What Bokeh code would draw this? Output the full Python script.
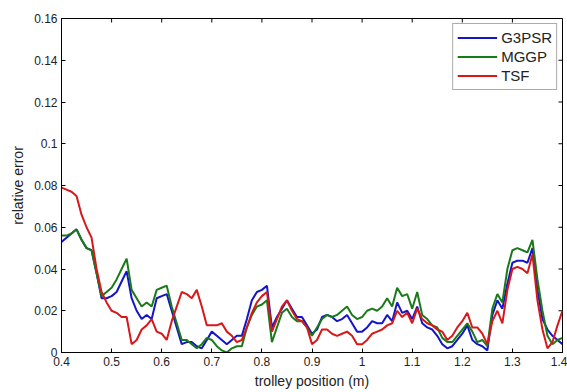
from bokeh.plotting import figure
from bokeh.models import Legend, LegendItem, FixedTicker, Range1d
from bokeh.embed import file_html
from bokeh.resources import INLINE
import math

x_pos = [round(0.40 + 0.01 * i, 2) for i in range(101)]

tsf = [0.079, 0.078, 0.077, 0.075, 0.066, 0.060, 0.055, 0.040, 0.029, 0.024,
       0.020, 0.019, 0.017, 0.017, 0.004, 0.006, 0.011, 0.013, 0.016, 0.010,
       0.009, 0.006, 0.015, 0.022, 0.029, 0.028, 0.026, 0.030, 0.022, 0.013,
       0.013, 0.013, 0.014, 0.010, 0.008, 0.005, 0.006, 0.012, 0.019, 0.024,
       0.027, 0.029, 0.010, 0.016, 0.022, 0.025, 0.020, 0.016, 0.015, 0.012,
       0.004, 0.006, 0.011, 0.011, 0.009, 0.008, 0.009, 0.010, 0.008, 0.004,
       0.004, 0.006, 0.009, 0.010, 0.011, 0.013, 0.014, 0.020, 0.017, 0.019,
       0.014, 0.021, 0.016, 0.014, 0.013, 0.011, 0.010, 0.006, 0.008, 0.012,
       0.015, 0.019, 0.012, 0.012, 0.009, 0.004, 0.015, 0.020, 0.014, 0.030,
       0.040, 0.041, 0.040, 0.038, 0.047, 0.025, 0.011, 0.002, 0.005, 0.013,
       0.020]

g3psr = [0.053, 0.055, 0.057, 0.059, 0.054, 0.050, 0.049, 0.038, 0.026, 0.026,
         0.027, 0.029, 0.034, 0.039, 0.026, 0.020, 0.016, 0.018, 0.016, 0.026,
         0.027, 0.028, 0.020, 0.012, 0.004, 0.005, 0.005, 0.003, 0.002, 0.006,
         0.010, 0.008, 0.006, 0.004, 0.006, 0.008, 0.008, 0.016, 0.025, 0.029,
         0.030, 0.032, 0.012, 0.017, 0.021, 0.025, 0.021, 0.017, 0.017, 0.013,
         0.009, 0.011, 0.017, 0.018, 0.017, 0.015, 0.016, 0.018, 0.014, 0.010,
         0.010, 0.012, 0.015, 0.014, 0.014, 0.018, 0.015, 0.024, 0.019, 0.020,
         0.016, 0.022, 0.014, 0.012, 0.011, 0.008, 0.004, 0.002, 0.003, 0.006,
         0.009, 0.013, 0.006, 0.004, 0.003, 0.001, 0.018, 0.025, 0.021, 0.033,
         0.043, 0.044, 0.044, 0.043, 0.050, 0.030, 0.016, 0.011, 0.008, 0.006,
         0.004]

mggp = [0.056, 0.056, 0.057, 0.059, 0.054, 0.050, 0.049, 0.038, 0.027, 0.029,
        0.031, 0.035, 0.040, 0.045, 0.030, 0.026, 0.022, 0.024, 0.022, 0.030,
        0.031, 0.032, 0.022, 0.014, 0.006, 0.006, 0.004, 0.002, 0.004, 0.007,
        0.006, 0.003, 0.001, 0.000, 0.002, 0.003, 0.003, 0.012, 0.018, 0.022,
        0.023, 0.025, 0.005, 0.012, 0.019, 0.021, 0.017, 0.015, 0.015, 0.012,
        0.008, 0.012, 0.016, 0.018, 0.017, 0.018, 0.020, 0.022, 0.018, 0.016,
        0.017, 0.020, 0.021, 0.020, 0.022, 0.026, 0.022, 0.031, 0.027, 0.028,
        0.021, 0.029, 0.018, 0.016, 0.013, 0.012, 0.007, 0.005, 0.005, 0.008,
        0.011, 0.014, 0.010, 0.005, 0.006, 0.003, 0.021, 0.028, 0.024, 0.040,
        0.049, 0.050, 0.049, 0.048, 0.054, 0.035, 0.020, 0.008, 0.004, 0.006,
        0.007]

x_ticks = [0.4, 0.5, 0.6, 0.7, 0.8, 0.9, 1.0, 1.1, 1.2, 1.3, 1.4]
y_ticks = [0, 0.02, 0.04, 0.06, 0.08, 0.1, 0.12, 0.14, 0.16]
x_tick_labels = ["0.4", "0.5", "0.6", "0.7", "0.8", "0.9", "1", "1.1", "1.2", "1.3", "1.4"]
y_tick_labels = ["0", "0.02", "0.04", "0.06", "0.08", "0.1", "0.12", "0.14", "0.16"]
x_min, x_max = 0.4, 1.4
y_min, y_max = 0.0, 0.16

FONT = "Liberation Sans"

p = figure(width=567, height=392, output_backend="svg", toolbar_location=None,
           x_range=Range1d(x_min, x_max), y_range=Range1d(y_min, y_max),
           min_border_left=61, min_border_right=5, min_border_top=18, min_border_bottom=40,
           x_axis_label="trolley position (m)", y_axis_label="relative error")
p.xgrid.visible = False
p.ygrid.visible = False
p.outline_line_color = "black"
p.outline_line_width = 1
p.background_fill_color = "white"

p.xaxis.ticker = FixedTicker(ticks=x_ticks)
p.xaxis.major_label_overrides = {t: l for t, l in zip(x_ticks, x_tick_labels)}
p.yaxis.ticker = FixedTicker(ticks=y_ticks)
p.yaxis.major_label_overrides = {t: l for t, l in zip(y_ticks, y_tick_labels)}
for ax in list(p.xaxis) + list(p.yaxis):
    ax.major_tick_in = 4
    ax.major_tick_out = 0
    ax.minor_tick_in = 0
    ax.minor_tick_out = 0
    ax.axis_line_color = "black"
    ax.major_tick_line_color = "black"
    ax.major_label_text_font = FONT
    ax.major_label_text_font_size = "12px"
    ax.major_label_text_color = "#222222"
    ax.axis_label_text_font = FONT
    ax.axis_label_text_font_size = "14px"
    ax.axis_label_text_font_style = "normal"
    ax.axis_label_text_color = "#222222"
for ax in p.xaxis:
    ax.axis_label_standoff = 4
    ax.major_label_standoff = 4
for ax in p.yaxis:
    ax.axis_label_standoff = 5
    ax.major_label_standoff = 4

# inward ticks on the top and right frame edges (matlab box style)
p.ray(x=x_ticks, y=[y_max] * len(x_ticks), length=4, length_units="screen",
      angle=-math.pi / 2, line_color="black", line_width=1)
p.ray(x=[x_max] * len(y_ticks), y=y_ticks, length=4, length_units="screen",
      angle=math.pi, line_color="black", line_width=1)

r1 = p.line(x_pos, g3psr, line_color="#1414c8", line_width=2)
r2 = p.line(x_pos, mggp, line_color="#1a7a1a", line_width=2)
r3 = p.line(x_pos, tsf, line_color="#d81818", line_width=2)

legend = Legend(items=[LegendItem(label="G3PSR", renderers=[r1]),
                       LegendItem(label="MGGP", renderers=[r2]),
                       LegendItem(label="TSF", renderers=[r3])],
                location="top_right")
legend.label_text_font = FONT
legend.label_text_font_size = "15px"
legend.label_text_color = "#222222"
legend.glyph_width = 40
legend.glyph_height = 19
legend.label_standoff = 4
legend.spacing = 0
legend.padding = 4
legend.margin = 5
legend.border_line_color = "#555555"
legend.border_line_width = 1
legend.label_height = 19
p.add_layout(legend)

open("out.html", "w").write(file_html(p, INLINE))
